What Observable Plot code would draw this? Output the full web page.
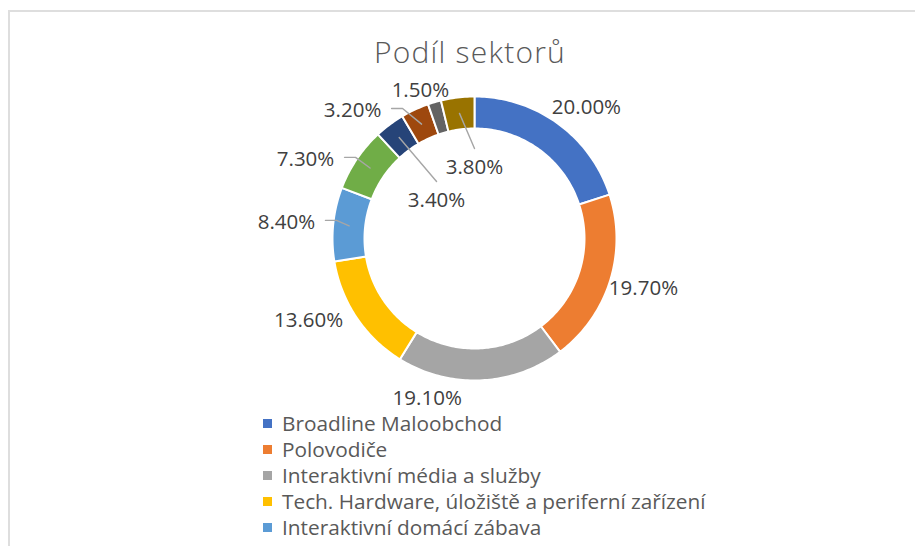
<!DOCTYPE html>
<html>
<head>
<meta charset="utf-8">
<script src="https://cdn.jsdelivr.net/npm/d3@7"></script>
<script src="https://cdn.jsdelivr.net/npm/@observablehq/plot@0.6"></script>
<style>
  html, body { margin: 0; padding: 0; width: 915px; height: 546px; overflow: hidden; background: #fff; }
  #frame { position: absolute; left: 8px; top: 10px; width: 1000px; height: 700px;
           border-left: 2px solid #dedede; border-top: 2px solid #dedede; }
  #chart { position: absolute; left: 0; top: 0; }
  #title { position: absolute; left: 0; width: 940px; top: 37px; text-align: center; letter-spacing: 1.2px;
           font-family: "Open Sans", sans-serif; font-weight: 300; font-size: 30px; line-height: 30px; color: #595959; }
  #legend { position: absolute; left: 263px; top: 410px; font-family: "Open Sans", sans-serif; font-size: 20.8px; color: #595959; }
  .row { height: 26px; display: flex; align-items: center; white-space: nowrap; }
  .sw { width: 9px; height: 9px; margin-right: 10px; flex: none; }
</style>
</head>
<body>
<div id="frame"></div>
<div id="chart"></div>
<div id="title">Podíl sektorů</div>
<div id="legend"></div>
<script>
// ---- data ----
const sliceValues = [20.0, 19.7, 19.1, 13.6, 8.4, 7.3, 3.4, 3.2, 1.5, 3.8];
const sliceColors = ["#4472C4", "#ED7D31", "#A5A5A5", "#FFC000", "#5B9BD5",
                     "#70AD47", "#264478", "#9E480E", "#636363", "#997300"];
const legendNames = ["Broadline Maloobchod", "Polovodiče", "Interaktivní média a služby",
                     "Tech. Hardware, úložiště a periferní zařízení", "Interaktivní domácí zábava"];
// ---- label layout (polar: degrees clockwise from top, radius relative to outer radius) ----
const labelAngles = [40.5, 106.5, 196.5, 243.8, 274.9, 295.1, 315, 316.4, 339.9, 0];
const labelRadii  = [1.214, 1.241, 1.172, 1.302, 1.329, 1.314, 0.378, 1.245, 1.109, 0.5];
const leaderKinds = ["", "", "", "", "h", "h", "v", "h", "", "v"];

const W = 915, H = 546, CX = 474, CY = 238, K = 142; // K px per unit radius
const INNER = 110 / K, MIDR = (1 + INNER) / 2;

const arcs = d3.pie().sort(null).value(d => d)(sliceValues);
const polar = (r, a) => ({x: r * Math.sin(a), y: r * Math.cos(a)});

const slicePts = [];
arcs.forEach((a, i) => {
  const n = Math.max(2, Math.ceil((a.endAngle - a.startAngle) / (Math.PI / 180)));
  const pts = [];
  for (let k = 0; k <= n; k++) pts.push(polar(1, a.startAngle + (a.endAngle - a.startAngle) * k / n));
  for (let k = n; k >= 0; k--) pts.push(polar(INNER, a.startAngle + (a.endAngle - a.startAngle) * k / n));
  pts.push(pts[0]);
  pts.forEach(p => slicePts.push({...p, i, color: sliceColors[i]}));
});

const labels = arcs.map((a, i) => {
  const p = polar(labelRadii[i], labelAngles[i] * Math.PI / 180);
  return {...p, text: sliceValues[i].toFixed(2) + "%", i};
});

const leaderPts = [];
arcs.forEach((a, i) => {
  const kind = leaderKinds[i];
  if (!kind) return;
  const L = labels[i];
  const s = polar(MIDR, (a.startAngle + a.endAngle) / 2);
  if (kind === "h") {
    const p1 = {x: L.x + 39 / K, y: L.y + 2 / K};
    const p2 = {x: p1.x + 11 / K, y: p1.y};
    [p1, p2, s].forEach(p => leaderPts.push({...p, i}));
  } else {
    const p1 = {x: L.x, y: L.y + 19 / K};
    [p1, s].forEach(p => leaderPts.push({...p, i}));
  }
});

const chart = Plot.plot({
  width: W, height: H, margin: 0,
  x: {domain: [-CX / K, (W - CX) / K], axis: null},
  y: {domain: [-(H - CY) / K, CY / K], axis: null},
  color: {type: "identity"},
  style: {background: "transparent"},
  marks: [
    Plot.line(slicePts, {x: "x", y: "y", z: "i", fill: "color", stroke: "white", strokeWidth: 2}),
    Plot.line(leaderPts, {x: "x", y: "y", z: "i", stroke: "#a6a6a6", strokeWidth: 1.4}),
    Plot.text(labels, {x: "x", y: "y", text: "text", fontSize: 20.5, fontFamily: "Open Sans, sans-serif", fill: "#404040"})
  ]
});
document.getElementById("chart").appendChild(chart);

const legend = document.getElementById("legend");
legendNames.forEach((name, i) => {
  const row = document.createElement("div");
  row.className = "row";
  const sw = document.createElement("span");
  sw.className = "sw";
  sw.style.background = sliceColors[i];
  const t = document.createElement("span");
  t.textContent = name;
  row.appendChild(sw);
  row.appendChild(t);
  legend.appendChild(row);
});
</script>
</body>
</html>
